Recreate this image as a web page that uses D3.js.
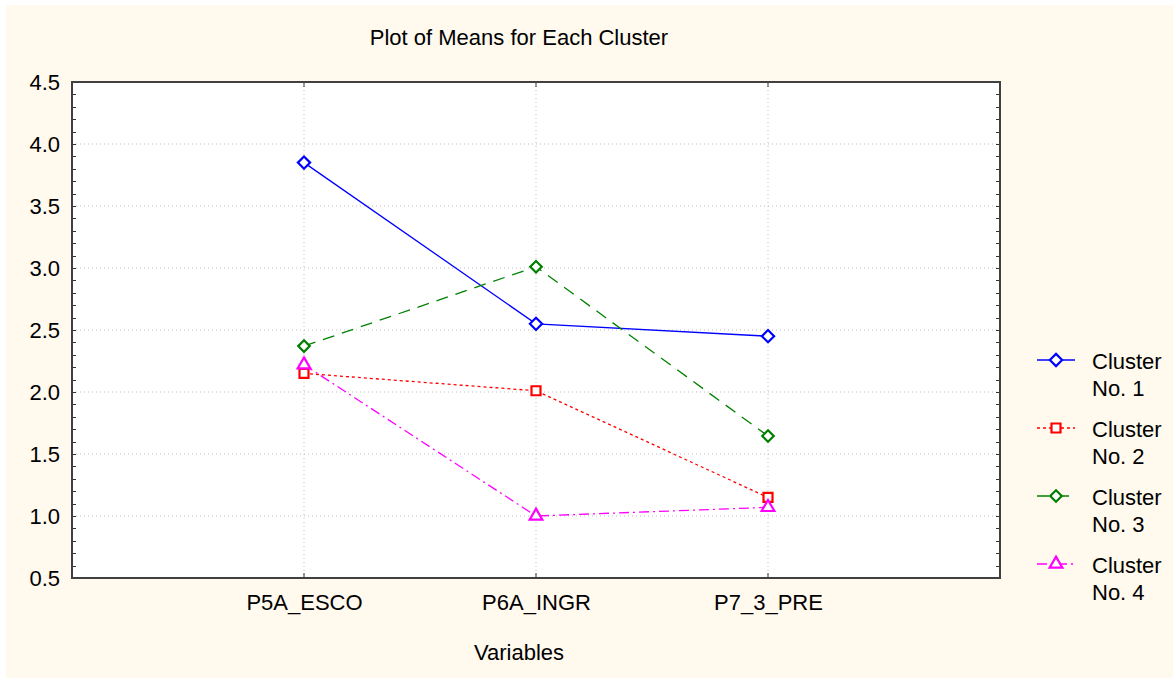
<!DOCTYPE html>
<html>
<head>
<meta charset="utf-8">
<script src="https://cdn.jsdelivr.net/npm/d3@7"></script>
<style>
  html, body { margin: 0; padding: 0; background: #ffffff; }
  svg { display: block; }
  text { font-family: "Liberation Sans", Arial, sans-serif; fill: #000; }
</style>
</head>
<body>
<svg id="chart" width="1173" height="678"></svg>
<script>
const title = "Plot of Means for Each Cluster";
const xTitle = "Variables";
const categories = ["P5A_ESCO", "P6A_INGR", "P7_3_PRE"];
const seriesNames = ["Cluster No. 1", "Cluster No. 2", "Cluster No. 3", "Cluster No. 4"];
const cluster1 = [3.85, 2.55, 2.45];
const cluster2 = [2.15, 2.01, 1.15];
const cluster3 = [2.37, 3.01, 1.645];
const cluster4 = [2.22, 1.00, 1.07];
const yTickLabels = ["0.5", "1.0", "1.5", "2.0", "2.5", "3.0", "3.5", "4.0", "4.5"];

const seriesValues = [cluster1, cluster2, cluster3, cluster4];
const colors = ["#0000ff", "#ff0000", "#008000", "#ff00ff"];
const dashes = [null, "3,3", "12,8", "10,4,2,4"];
const diamond = d3.symbolDiamond2 || d3.symbolDiamond;
const shapes = [diamond, d3.symbolSquare, diamond, d3.symbolTriangle];
const sizes = [95, 81, 85, 70];

const svg = d3.select("#chart");
const W = 1173, H = 678;
const L = 72, R = 1000, T = 82, B = 578;

// outer background
svg.append("rect").attr("x", 6).attr("y", 5).attr("width", W - 6).attr("height", H - 5).attr("fill", "#fff9ee");
// plot area
svg.append("rect").attr("x", L).attr("y", T).attr("width", R - L).attr("height", B - T).attr("fill", "#ffffff");

const x = d3.scaleLinear().domain([0, categories.length + 1]).range([L, R]);
const y = d3.scaleLinear().domain([0.5, 4.5]).range([B, T]);
const yVals = yTickLabels.map(Number);

// grid
const g = svg.append("g");
g.selectAll(".hg").data(yVals.filter(v => v > 0.5 && v < 4.5)).join("line")
  .attr("x1", L).attr("x2", R).attr("y1", d => y(d)).attr("y2", d => y(d))
  .attr("stroke", "#bdbdbd").attr("stroke-width", 1).attr("stroke-dasharray", "1,3");
g.selectAll(".vg").data(categories).join("line")
  .attr("x1", (d, i) => x(i + 1)).attr("x2", (d, i) => x(i + 1)).attr("y1", T).attr("y2", B)
  .attr("stroke", "#bdbdbd").attr("stroke-width", 1).attr("stroke-dasharray", "1,3");

// minor ticks every 0.1 on left and right, inward
const minor = d3.range(5, 46).map(v => v / 10);
svg.append("g").selectAll("line").data(minor).join("line")
  .attr("x1", L).attr("x2", L + 4).attr("y1", d => Math.round(y(d)) + 0.5).attr("y2", d => Math.round(y(d)) + 0.5)
  .attr("stroke", "#333").attr("stroke-width", 1);
svg.append("g").selectAll("line").data(minor).join("line")
  .attr("x1", R - 4).attr("x2", R).attr("y1", d => Math.round(y(d)) + 0.5).attr("y2", d => Math.round(y(d)) + 0.5)
  .attr("stroke", "#333").attr("stroke-width", 1);
// category ticks top and bottom, inward
svg.append("g").selectAll("line").data(categories).join("line")
  .attr("x1", (d, i) => x(i + 1)).attr("x2", (d, i) => x(i + 1)).attr("y1", T).attr("y2", T + 5)
  .attr("stroke", "#333").attr("stroke-width", 1);
svg.append("g").selectAll("line").data(categories).join("line")
  .attr("x1", (d, i) => x(i + 1)).attr("x2", (d, i) => x(i + 1)).attr("y1", B - 5).attr("y2", B)
  .attr("stroke", "#333").attr("stroke-width", 1);

// frame
svg.append("rect").attr("x", L).attr("y", T).attr("width", R - L).attr("height", B - T)
  .attr("fill", "none").attr("stroke", "#404040").attr("stroke-width", 2);

// y axis labels
const yAxis = d3.axisLeft(y).tickValues(yVals).tickFormat((d, i) => yTickLabels[i]).tickSize(0).tickPadding(12);
const ya = svg.append("g").attr("transform", `translate(${L},0)`).call(yAxis);
ya.select(".domain").remove();
ya.selectAll("text").attr("font-size", 22).attr("font-family", "Liberation Sans, Arial, sans-serif").attr("fill", "#000");

// x axis labels
const xAxis = d3.axisBottom(x).tickValues([1, 2, 3]).tickFormat(d => categories[d - 1]).tickSize(0).tickPadding(16);
const xa = svg.append("g").attr("transform", `translate(0,${B})`).call(xAxis);
xa.select(".domain").remove();
xa.selectAll("text").attr("font-size", 22).attr("font-family", "Liberation Sans, Arial, sans-serif").attr("fill", "#000");

// titles
svg.append("text").attr("x", 519).attr("y", 45).attr("text-anchor", "middle").attr("font-size", 22).text(title);
svg.append("text").attr("x", 519).attr("y", 660).attr("text-anchor", "middle").attr("font-size", 22).text(xTitle);

// series
const line = d3.line().x((d, i) => x(i + 1)).y(d => y(d));
seriesValues.forEach((vals, s) => {
  svg.append("path").datum(vals).attr("d", line).attr("fill", "none")
    .attr("stroke", colors[s]).attr("stroke-width", 1.3)
    .attr("stroke-dasharray", dashes[s]);
});
seriesValues.forEach((vals, s) => {
  svg.append("g").selectAll("path").data(vals).join("path")
    .attr("transform", (d, i) => `translate(${x(i + 1)},${y(d)})`)
    .attr("d", d3.symbol().type(shapes[s]).size(sizes[s]))
    .attr("fill", "#ffffff").attr("stroke", colors[s]).attr("stroke-width", 2.2);
});

// legend
const leg = svg.append("g");
seriesNames.forEach((name, s) => {
  const cy = 360 + s * 68;
  leg.append("line").attr("x1", 1037).attr("x2", 1075).attr("y1", cy).attr("y2", cy)
    .attr("stroke", colors[s]).attr("stroke-width", 1.3).attr("stroke-dasharray", dashes[s]);
  leg.append("path").attr("transform", `translate(1056,${cy})`)
    .attr("d", d3.symbol().type(shapes[s]).size(sizes[s]))
    .attr("fill", "#ffffff").attr("stroke", colors[s]).attr("stroke-width", 2.2);
  const parts = name.split(" ");
  leg.append("text").attr("x", 1092).attr("y", cy + 9).attr("font-size", 22).text(parts[0]);
  leg.append("text").attr("x", 1092).attr("y", cy + 36).attr("font-size", 22).text(parts.slice(1).join(" "));
});
</script>
</body>
</html>
